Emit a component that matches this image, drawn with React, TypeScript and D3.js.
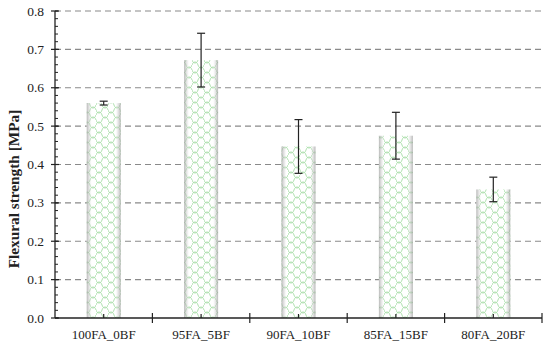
import React from 'react'
import * as d3 from 'd3'

const categories = ['100FA_0BF', '95FA_5BF', '90FA_10BF', '85FA_15BF', '80FA_20BF']
const strength = [0.56, 0.672, 0.447, 0.475, 0.335]
const errors = [0.005, 0.07, 0.07, 0.061, 0.032]
const yTicks = [0, 0.1, 0.2, 0.3, 0.4, 0.5, 0.6, 0.7, 0.8]

const W = 550, H = 348
const margin = { top: 11, right: 8, bottom: 30, left: 55 }
const FONT = 'Times New Roman, Liberation Serif, serif'

export default function App() {
  const x = d3.scaleBand().domain(categories).range([margin.left, W - margin.right])
  const y = d3.scaleLinear().domain([0, 0.8]).range([H - margin.bottom, margin.top])
  const minor = d3.range(0, 0.8001, 0.02)
  const barW = 34
  const y0 = y(0)

  return (
    <svg width={W} height={H} style={{ position: 'absolute', left: 0, top: 0, background: '#fff' }}>
      <defs>
        <pattern id="scales" width="12" height="10" patternUnits="userSpaceOnUse">
          <rect width="12" height="10" fill="#fff" />
          <path d="M0,5 C1,1 5,1 6,5 C7,9 11,9 12,5 M-6,10 C-5,6 -1,6 0,10 M6,0 C7,-4 11,-4 12,0 M0,0 C1,4 5,4 6,0 M6,10 C7,6 11,6 12,10"
            fill="none" stroke="#a6dca6" strokeWidth="0.9" />
        </pattern>
        <linearGradient id="edges" x1="0" x2="1" y1="0" y2="0">
          <stop offset="0" stopColor="#9a9a9a" stopOpacity="0.7" />
          <stop offset="0.1" stopColor="#d8d8d8" stopOpacity="0.4" />
          <stop offset="0.16" stopColor="#fff" stopOpacity="0" />
          <stop offset="0.84" stopColor="#fff" stopOpacity="0" />
          <stop offset="0.9" stopColor="#d8d8d8" stopOpacity="0.4" />
          <stop offset="1" stopColor="#9a9a9a" stopOpacity="0.7" />
        </linearGradient>
      </defs>

      {yTicks.slice(1).map(t => (
        <line key={t} x1={margin.left} x2={W - 7} y1={y(t)} y2={y(t)}
          stroke="#8a8a8a" strokeWidth={1.2} strokeDasharray="6,4" />
      ))}

      {categories.map((c, i) => {
        const cx = x(c)! + x.bandwidth() / 2
        const top = y(strength[i])
        return (
          <g key={c}>
            <rect x={cx - barW / 2} y={top} width={barW} height={y0 - top} fill="url(#scales)" />
            <rect x={cx - barW / 2} y={top} width={barW} height={y0 - top} fill="url(#edges)" />
            <line x1={cx} x2={cx} y1={y(strength[i] + errors[i])} y2={y(strength[i] - errors[i])} stroke="#222" strokeWidth={1.2} />
            <line x1={cx - 4} x2={cx + 4} y1={y(strength[i] + errors[i])} y2={y(strength[i] + errors[i])} stroke="#222" strokeWidth={1.2} />
            <line x1={cx - 4} x2={cx + 4} y1={y(strength[i] - errors[i])} y2={y(strength[i] - errors[i])} stroke="#222" strokeWidth={1.2} />
            <line x1={cx} x2={cx} y1={y0} y2={y0 - 4} stroke="#222" strokeWidth={1.2} />
            <text x={cx} y={y0 + 21} textAnchor="middle" fontFamily={FONT} fontSize={13} fill="#222">{c}</text>
          </g>
        )
      })}

      {/* y axis */}
      <line x1={margin.left} x2={margin.left} y1={margin.top} y2={y0} stroke="#222" strokeWidth={1.3} />
      {minor.map(t => (
        <line key={'m' + t} x1={margin.left} x2={margin.left + 3} y1={y(t)} y2={y(t)} stroke="#222" strokeWidth={1} />
      ))}
      {yTicks.map(t => (
        <g key={'t' + t}>
          <line x1={margin.left - 4} x2={margin.left + 4} y1={y(t)} y2={y(t)} stroke="#222" strokeWidth={1.2} />
          <text x={margin.left - 11} y={y(t) + 4.5} textAnchor="end" fontFamily={FONT} fontSize={13.5} fill="#222">{t.toFixed(1)}</text>
        </g>
      ))}

      {/* x axis */}
      <line x1={margin.left} x2={W - margin.right} y1={y0} y2={y0} stroke="#222" strokeWidth={1.3} />
      {categories.map(c => (
        <line key={'b' + c} x1={x(c)! + x.bandwidth()} x2={x(c)! + x.bandwidth()} y1={y0 - 5} y2={y0 + 5} stroke="#222" strokeWidth={1.2} />
      ))}

      <text transform={`translate(19,189) rotate(-90)`} textAnchor="middle"
        fontFamily={FONT} fontSize={15.3} fontWeight="bold" fill="#222">Flexural strength [MPa]</text>
    </svg>
  )
}
